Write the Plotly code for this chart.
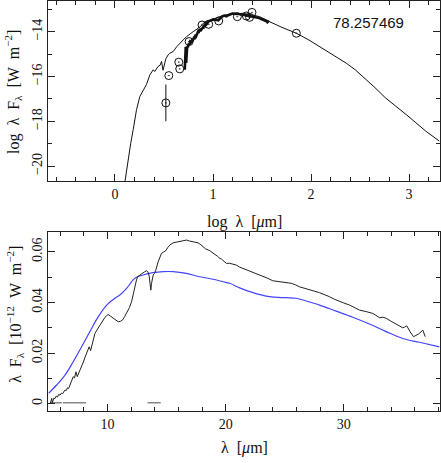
import numpy as np
import plotly.graph_objects as go

# ---------------- data ----------------
# top panel: model SED (log lambda [um], log lambda F_lambda [W m^-2])
model_loglam = [0.10, 0.13, 0.146, 0.16, 0.186, 0.22, 0.254, 0.29, 0.32, 0.356, 0.39, 0.405,
                0.424, 0.44, 0.46, 0.475, 0.49, 0.52, 0.542, 0.56, 0.593, 0.63, 0.695, 0.73,
                0.797, 0.87, 0.898, 0.95, 1.03, 1.07, 1.17, 1.24, 1.305, 1.41, 1.475, 1.567,
                1.58, 1.70, 1.85, 1.97, 2.085, 2.22, 2.357, 2.45, 2.53, 2.64, 2.76, 2.87,
                2.97, 3.07, 3.17, 3.31]
model_logflux = [-20.75, -19.85, -19.33, -19.0, -18.37, -17.48, -16.89, -16.6, -16.37, -15.93,
                 -15.70, -15.78, -15.63, -15.55, -15.50, -15.33, -15.72, -15.20, -15.04, -14.96,
                 -14.89, -14.67, -14.37, -14.22, -14.0, -13.78, -13.63, -13.52, -13.40, -13.33,
                 -13.21, -13.18, -13.18, -13.26, -13.33, -13.52, -13.56, -13.80, -14.07, -14.35,
                 -14.67, -15.02, -15.40, -15.70, -16.0, -16.45, -16.96, -17.33, -17.70, -18.07,
                 -18.44, -18.89]

# top panel: photometry
phot_loglam = [0.519, 0.549, 0.651, 0.661, 0.756, 0.888, 0.956, 1.058, 1.248, 1.34, 1.373, 1.397, 1.85]
phot_logflux = [-17.18, -15.96, -15.36, -15.66, -14.44, -13.70, -13.67, -13.52, -13.33, -13.30,
                -13.36, -13.14, -14.07]
phot_err = [0.82, 0, 0, 0, 0, 0, 0, 0, 0, 0, 0, 0, 0]

# bottom panel: IRS spectrum (lambda [um], lambda F_lambda [1e-12 W m^-2])
spec_lam = [5.15, 5.22, 5.27, 5.32, 5.38, 5.45, 5.54, 5.65, 5.75, 5.85, 5.97, 6.1, 6.2, 6.3,
            6.39, 6.5, 6.6, 6.7, 6.81, 6.9, 7.0, 7.09, 7.2, 7.32, 7.43, 7.55, 7.68, 7.80, 7.95,
            8.1, 8.22, 8.35, 8.44, 8.56, 8.7, 8.93, 9.15, 9.35, 9.55, 9.77, 9.9, 10.05, 10.25,
            10.47, 10.7, 10.9, 11.1, 11.27, 11.45, 11.66, 11.85, 12.03, 12.15, 12.31, 12.45,
            12.54, 12.75, 13.01, 13.15, 13.30, 13.42, 13.52, 13.6, 13.66, 13.72, 13.86, 13.97,
            14.08, 14.28, 14.56, 14.75, 14.93, 15.1, 15.27, 15.55, 15.8, 16.11, 16.4, 16.68,
            16.95, 17.24, 17.45, 17.66, 17.9, 18.08, 18.3, 18.65, 18.85, 19.07, 19.3, 19.49,
            19.64, 19.85, 20.06, 20.34, 20.62, 20.9, 21.18, 21.46, 21.8, 22.3, 22.7, 23.15,
            23.5, 23.99, 24.4, 24.84, 25.2, 25.55, 25.9, 26.25, 26.7, 27.1, 27.5, 27.94, 28.4,
            28.79, 29.2, 29.64, 30.0, 30.48, 30.9, 31.33, 31.9, 32.45, 32.7, 33.02, 33.3, 33.58,
            34.0, 34.43, 34.7, 34.99, 35.15, 35.33, 35.6, 35.9, 36.1, 36.32, 36.69, 36.89]
spec_flux = [0.0002, 0.0012, 0.0021, 0.0004, 0.0016, 0.0022, 0.0020, 0.0030, 0.0026, 0.0036,
             0.0034, 0.0042, 0.0040, 0.0050, 0.0054, 0.0052, 0.0063, 0.0060, 0.0074, 0.0080,
             0.0094, 0.0107, 0.0102, 0.0126, 0.0107, 0.0120, 0.0132, 0.0146, 0.0165, 0.0185,
             0.0199, 0.0208, 0.0225, 0.0210, 0.0240, 0.0278, 0.0295, 0.0311, 0.0322, 0.0341,
             0.0347, 0.0353, 0.0346, 0.0338, 0.0330, 0.0324, 0.0326, 0.0331, 0.0345, 0.0364,
             0.0380, 0.0403, 0.0430, 0.0462, 0.0490, 0.0502, 0.0510, 0.0518, 0.0522, 0.0526,
             0.0520, 0.0505, 0.0470, 0.0449, 0.0475, 0.0509, 0.0515, 0.0528, 0.0561, 0.0594,
             0.0600, 0.0605, 0.0618, 0.0627, 0.0636, 0.0638, 0.0640, 0.0643, 0.0647, 0.0643,
             0.0640, 0.0639, 0.0636, 0.0628, 0.0621, 0.0612, 0.0605, 0.0598, 0.0594, 0.0583,
             0.0575, 0.0572, 0.0563, 0.0555, 0.0555, 0.0551, 0.0548, 0.0540, 0.0535, 0.0528,
             0.0518, 0.0512, 0.0502, 0.0497, 0.0486, 0.0484, 0.0482, 0.0479, 0.0476, 0.0470,
             0.0462, 0.0456, 0.0449, 0.0445, 0.0439, 0.0431, 0.0423, 0.0413, 0.0403, 0.0398,
             0.0390, 0.0380, 0.0370, 0.0364, 0.0357, 0.0350, 0.0340, 0.0342, 0.0338, 0.0326,
             0.0314, 0.0306, 0.0300, 0.0303, 0.0308, 0.0285, 0.0265, 0.0270, 0.0275, 0.0291,
             0.0265]

# bottom panel: model (blue)
blue_lam = [5.0, 5.69, 6.39, 7.09, 7.80, 8.50, 9.21, 9.92, 10.62, 11.04, 11.61, 12.31, 13.01,
            13.86, 14.70, 15.55, 16.68, 17.80, 18.93, 19.77, 20.34, 21.18, 22.3, 23.71, 25.12,
            25.97, 26.81, 27.94, 29.35, 30.76, 32.17, 33.58, 34.99, 36.4, 38.1]
blue_flux = [0.0041, 0.0074, 0.0113, 0.0166, 0.0225, 0.0285, 0.0344, 0.0390, 0.0417, 0.0430,
             0.0456, 0.0496, 0.0509, 0.0518, 0.0522, 0.0522, 0.0515, 0.0502, 0.0492, 0.0482,
             0.0476, 0.0458, 0.0439, 0.0423, 0.0419, 0.0417, 0.0406, 0.0390, 0.0366, 0.0342,
             0.0315, 0.0285, 0.0258, 0.0243, 0.0225]

# bottom panel: grey range markers near zero
seg_lam = [5.15, 6.14, None, 6.22, 8.18, None, 13.38, 14.5]
seg_flux = [0.0004, 0.0004, None, 0.0004, 0.0004, None, 0.0004, 0.0004]

label_text = "78.257469"

# ---------------- figure ----------------
W, H = 441, 463
FRAME = "#222222"
SERIF = "Liberation Serif"

spec_lam_a = np.array(spec_lam)
spec_flux_a = np.array(spec_flux)
pos = spec_flux_a > 0
top_spec_x = np.log10(spec_lam_a[pos])
top_spec_y = np.log10(spec_flux_a[pos] * 1e-12)

fig = go.Figure()

fig.add_trace(go.Scatter(x=model_loglam, y=model_logflux, mode="lines",
                         line=dict(color="#111111", width=1), xaxis="x", yaxis="y"))
fig.add_trace(go.Scatter(x=top_spec_x, y=top_spec_y, mode="lines",
                         line=dict(color="#111111", width=2.6), xaxis="x", yaxis="y"))
fig.add_trace(go.Scatter(x=phot_loglam, y=phot_logflux, mode="markers",
                         marker=dict(symbol="circle-open-dot", size=8,
                                     line=dict(color="#111111", width=1), color="#111111"),
                         error_y=dict(type="data", array=phot_err, visible=True, width=0,
                                      thickness=1, color="#111111"),
                         xaxis="x", yaxis="y"))

fig.add_trace(go.Scatter(x=seg_lam, y=seg_flux, mode="lines",
                         line=dict(color="#888888", width=1.5), xaxis="x2", yaxis="y2"))
fig.add_trace(go.Scatter(x=blue_lam, y=blue_flux, mode="lines", line_shape="spline",
                         line=dict(color="#4444ff", width=1.2), xaxis="x2", yaxis="y2"))
fig.add_trace(go.Scatter(x=spec_lam, y=spec_flux, mode="lines",
                         line=dict(color="#222222", width=1), xaxis="x2", yaxis="y2"))

axis_common = dict(showgrid=False, zeroline=False, showline=True, linecolor=FRAME, linewidth=1,
                   mirror="allticks", ticks="inside", ticklen=7, tickwidth=1, tickcolor=FRAME,
                   automargin=False,
                   tickfont=dict(family=SERIF, size=14, color="#111111"))

xd = [48.3 / W, 439.5 / W]
fig.update_layout(
    width=W, height=H, margin=dict(l=0, r=0, t=0, b=0, autoexpand=False),
    paper_bgcolor="white", plot_bgcolor="white", showlegend=False,
    xaxis=dict(domain=xd, range=[-0.68, 3.31], tick0=0, dtick=1, anchor="y",
               minor=dict(ticks="inside", ticklen=4, dtick=0.2, tickcolor=FRAME),
               **axis_common),
    yaxis=dict(domain=[1 - 181.3 / H, 1 - 1 / H], range=[-20.68, -12.63], tick0=0, dtick=2,
               tickangle=-90, anchor="x",
               minor=dict(ticks="inside", ticklen=4, dtick=1, tickcolor=FRAME),
               **axis_common),
    xaxis2=dict(domain=xd, range=[4.98, 38.1], tick0=0, dtick=10, anchor="y2",
                minor=dict(ticks="inside", ticklen=4, dtick=2, tickcolor=FRAME),
                **axis_common),
    yaxis2=dict(domain=[1 - 411.3 / H, 1 - 231.7 / H], range=[-0.003, 0.068], tick0=0,
                dtick=0.02, tickangle=-90, anchor="x2",
                minor=dict(ticks="inside", ticklen=4, dtick=0.01, tickcolor=FRAME),
                **axis_common),
)

def ann(text, xpx, ypx, size=16, angle=0, family=SERIF):
    fig.add_annotation(text=text, x=xpx / W, y=1 - ypx / H, xref="paper", yref="paper",
                       showarrow=False, textangle=angle, xanchor="center", yanchor="middle",
                       font=dict(family=family, size=size, color="#111111"))

ann("log  λ  [<i>μ</i>m]", 244, 222)
ann("λ  [<i>μ</i>m]", 244, 448)
ann("log  λ  F<sub>λ</sub>  [W  m<sup>−2</sup>]", 13, 92, angle=-90)
ann("λ  F<sub>λ</sub>  [10<sup>−12</sup>  W  m<sup>−2</sup>]", 15, 315, angle=-90)
ann(label_text, 368, 22, size=15, family="Liberation Sans")

fig.write_html("out.html", config={"displayModeBar": False},
               post_script="document.body.style.margin='0';document.body.style.overflow='hidden';")
